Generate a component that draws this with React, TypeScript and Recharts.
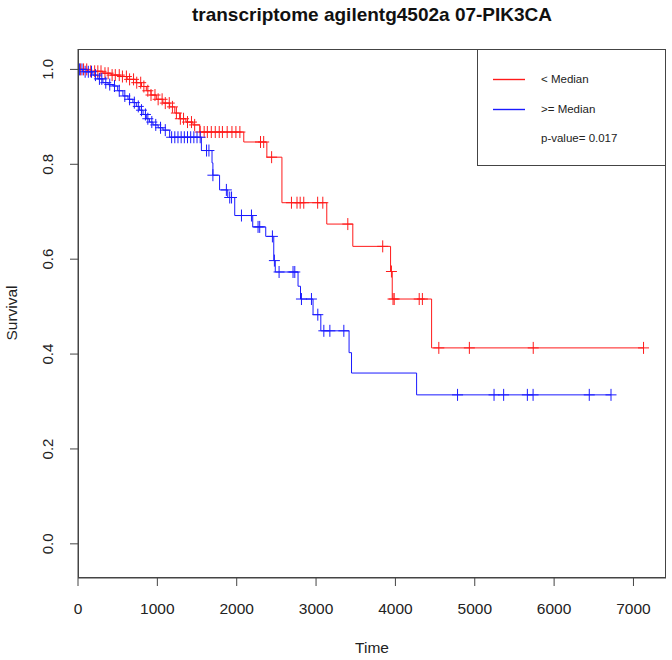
import React from "react";
import { ComposedChart, Line, Scatter, XAxis, YAxis } from "recharts";

// Kaplan-Meier steps, < Median group
const redTimes = [0, 120, 314, 420, 525, 620, 735, 800, 861, 920, 987, 1070, 1155, 1220, 1281, 1360, 1449, 1534, 2089, 2380, 2570, 3135, 3463, 3939, 3960, 4456];
const redSurv = [1.0, 0.996, 0.992, 0.988, 0.985, 0.979, 0.972, 0.964, 0.955, 0.946, 0.937, 0.929, 0.921, 0.908, 0.896, 0.889, 0.883, 0.868, 0.847, 0.815, 0.719, 0.674, 0.627, 0.574, 0.516, 0.413];
const redEnd = 7127;
const redCensored = [30, 70, 110, 160, 210, 250, 290, 340, 380, 430, 470, 520, 560, 610, 650, 700, 740, 790, 830, 880, 920, 970, 1010, 1060, 1100, 1150, 1190, 1240, 1290, 1330, 1380, 1430, 1470, 1540, 1590, 1630, 1680, 1730, 1780, 1820, 1880, 1940, 1990, 2040, 2300, 2340, 2440, 2690, 2760, 2800, 2845, 3020, 3085, 3400, 3840, 3950, 3970, 3985, 4300, 4340, 4547, 4932, 5737, 7127];

// >= Median group
const blueTimes = [0, 60, 188, 250, 314, 380, 440, 500, 566, 630, 692, 735, 777, 820, 861, 900, 945, 1010, 1071, 1155, 1555, 1689, 1700, 1784, 1887, 1975, 2202, 2366, 2467, 2486, 2773, 2804, 2962, 3060, 3416, 3447, 4267];
const blueSurv = [1.0, 0.995, 0.988, 0.98, 0.972, 0.968, 0.965, 0.955, 0.944, 0.937, 0.93, 0.922, 0.914, 0.905, 0.896, 0.889, 0.883, 0.877, 0.872, 0.857, 0.829, 0.803, 0.777, 0.746, 0.73, 0.692, 0.668, 0.648, 0.597, 0.573, 0.543, 0.516, 0.483, 0.449, 0.403, 0.36, 0.314];
const blueEnd = 6717;
const blueCensored = [20, 50, 90, 130, 170, 220, 270, 300, 350, 400, 460, 520, 590, 650, 710, 760, 800, 850, 880, 930, 980, 1040, 1100, 1180, 1220, 1260, 1300, 1340, 1380, 1420, 1460, 1500, 1540, 1620, 1650, 1700, 1870, 1912, 1935, 2060, 2186, 2269, 2290, 2450, 2475, 2534, 2710, 2732, 2816, 2942, 3022, 3098, 3174, 3350, 4783, 5243, 5364, 5663, 5735, 6443, 6717];

const xTicks = [0, 1000, 2000, 3000, 4000, 5000, 6000, 7000];
const yTicks = [0, 0.2, 0.4, 0.6, 0.8, 1.0];

const RED = "#ff1a1a";
const BLUE = "#1a1aff";
const FONT = "'Liberation Sans', Arial, Helvetica, sans-serif";

function survAt(times: number[], surv: number[], t: number) {
  let v = surv[0];
  for (let i = 0; i < times.length; i++) if (times[i] <= t) v = surv[i];
  return v;
}

function curve(times: number[], surv: number[], end: number) {
  const pts = times.map((t, i) => ({ t, s: surv[i] }));
  pts.push({ t: end, s: surv[surv.length - 1] });
  return pts;
}

function marks(times: number[], surv: number[], cens: number[]) {
  return cens.map((t) => ({ t, s: survAt(times, surv, t) }));
}

const redLine = curve(redTimes, redSurv, redEnd);
const blueLine = curve(blueTimes, blueSurv, blueEnd);
const redMarks = marks(redTimes, redSurv, redCensored);
const blueMarks = marks(blueTimes, blueSurv, blueCensored);

const cross = (color: string) => (p: any) => (
  <path
    d={`M${p.cx - 5.5},${p.cy}h11M${p.cx},${p.cy - 6}v12`}
    stroke={color}
    strokeWidth={1}
    fill="none"
  />
);

const YTick = (p: any) => {
  const x = p.x - 15;
  return (
    <text
      x={x}
      y={p.y}
      transform={`rotate(-90, ${x}, ${p.y})`}
      textAnchor="middle"
      fontSize={15}
      fontFamily={FONT}
      fill="#222"
    >
      {Number(p.payload.value).toFixed(1)}
    </text>
  );
};

export default function App() {
  return (
    <div style={{ position: "absolute", left: 0, top: 0, width: 672, height: 660, background: "#fff" }}>
      <ComposedChart
        width={672}
        height={660}
        margin={{ top: 49, right: 6, bottom: 0, left: 0 }}
      >
        <XAxis
          type="number"
          dataKey="t"
          domain={[0, 7410]}
          ticks={xTicks}
          allowDataOverflow
          height={82}
          tickSize={8}
          tickMargin={17}
          stroke="#444"
          tick={{ fontSize: 15.5, fontFamily: FONT, fill: "#222" }}
        />
        <YAxis
          type="number"
          dataKey="s"
          domain={[-0.072, 1.043]}
          ticks={yTicks}
          allowDataOverflow
          width={78}
          tickSize={8}
          stroke="#444"
          tick={YTick}
        />
        <Line data={redLine} dataKey="s" type="stepAfter" stroke={RED} strokeWidth={1} dot={false} isAnimationActive={false} />
        <Line data={blueLine} dataKey="s" type="stepAfter" stroke={BLUE} strokeWidth={1} dot={false} isAnimationActive={false} />
        <Scatter data={redMarks} dataKey="s" shape={cross(RED)} isAnimationActive={false} />
        <Scatter data={blueMarks} dataKey="s" shape={cross(BLUE)} isAnimationActive={false} />
      </ComposedChart>
      <svg
        width={672}
        height={660}
        style={{ position: "absolute", left: 0, top: 0, pointerEvents: "none" }}
        fontFamily={FONT}
      >
        <rect x={78.5} y={49.5} width={587} height={528} fill="none" stroke="#444" />
        <text x={372} y={21} textAnchor="middle" fontSize={19} fontWeight="bold" fill="#111">
          transcriptome agilentg4502a 07-PIK3CA
        </text>
        <text x={372} y={653} textAnchor="middle" fontSize={15.5} fill="#222">
          Time
        </text>
        <text x={17} y={313} transform="rotate(-90, 17, 313)" textAnchor="middle" fontSize={15.5} fill="#222">
          Survival
        </text>
        <rect x={477.5} y={49.5} width={188} height={116} fill="#fff" stroke="#444" />
        <path d="M493,79.5H525" stroke={RED} strokeWidth={1.4} fill="none" />
        <text x={541} y={83} fontSize={11.5} fill="#222">
          {"< Median"}
        </text>
        <path d="M493,109.5H525" stroke={BLUE} strokeWidth={1.4} fill="none" />
        <text x={541} y={113} fontSize={11.5} fill="#222">
          {">= Median"}
        </text>
        <text x={541} y={142} fontSize={11.5} fill="#222">
          p-value= 0.017
        </text>
      </svg>
    </div>
  );
}
